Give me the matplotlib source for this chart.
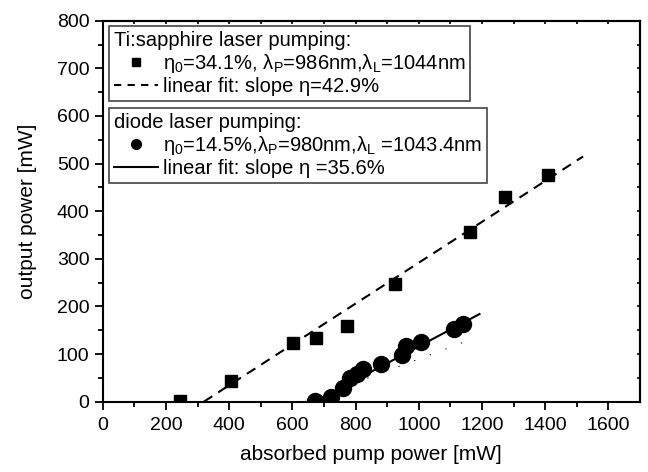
import matplotlib
matplotlib.use("Agg")
import matplotlib.pyplot as plt
from matplotlib.lines import Line2D
import numpy as np

plt.rcParams['font.family'] = ['Liberation Sans', 'DejaVu Sans']
plt.rcParams['mathtext.fontset'] = 'custom'
plt.rcParams['mathtext.rm'] = 'Liberation Sans'
plt.rcParams['mathtext.it'] = 'Liberation Sans'

# Ti:sapphire laser pumping
ti_x = [245, 405, 601, 675, 772, 925, 1162, 1273, 1408]
ti_y = [2, 44, 124, 134, 158, 247, 356, 430, 477]
ti_fit_x = [320, 1520]
ti_fit_y = [0, 515]

# diode laser pumping
di_x = [672, 722, 761, 783, 804, 825, 881, 946, 959, 1006, 1112, 1141]
di_y = [2, 10, 28, 49, 59, 68, 80, 97, 117, 125, 153, 163]
di_fit_x = [672, 1192]
di_fit_y = [0, 184]

# faint dotted trace under the diode data
dot_x = [640, 1155]
dot_y = [0, 128]

fig = plt.figure(figsize=(6.48, 4.72), dpi=100)
ax = fig.add_axes([0.1585, 0.149, 0.8292, 0.807])

ax.plot(ti_fit_x, ti_fit_y, color='black', lw=1.5, linestyle=(0, (4.8, 3.4)))
ax.plot(ti_x, ti_y, 's', color='black', ms=9)
ax.plot(di_fit_x, di_fit_y, color='black', lw=1.5)
ax.plot(di_x, di_y, 'o', color='black', ms=11.5)
ax.plot(dot_x, dot_y, color='black', lw=0.8, linestyle=(0, (1, 14)))

ax.set_xlim(0, 1700)
ax.set_ylim(0, 800)
ax.set_xticks(np.arange(0, 1601, 200))
ax.set_xticks(np.arange(100, 1700, 200), minor=True)
ax.set_yticks(np.arange(0, 801, 100))
ax.set_yticks(np.arange(50, 800, 100), minor=True)
ax.tick_params(which='major', direction='out', length=6, width=1.3, labelsize=14)
ax.tick_params(axis='x', which='major', pad=5)
ax.tick_params(which='minor', direction='out', length=3.5, width=1.3)
for s in ax.spines.values():
    s.set_linewidth(1.5)

secx = ax.secondary_xaxis('top')
secx.set_xticks(np.arange(100, 1700, 100))
secx.tick_params(direction='in', length=2.5, width=1.2, labeltop=False)
secx.spines['top'].set_linewidth(1.5)
secy = ax.secondary_yaxis('right')
secy.set_yticks(np.arange(50, 800, 50))
secy.tick_params(direction='in', length=2.5, width=1.2, labelright=False)
secy.spines['right'].set_linewidth(1.5)

ax.set_xlabel('absorbed pump power [mW]', fontsize=15, labelpad=8)
ax.set_ylabel('output power [mW]', fontsize=15, labelpad=14)

leg_kw = dict(fontsize=14.5, title_fontsize=14.5, frameon=True, fancybox=False,
              edgecolor='#444444', framealpha=1, handlelength=2.2, handletextpad=0.2,
              borderpad=0.25, labelspacing=0.1, borderaxespad=0, alignment='left')

h1 = [Line2D([], [], marker='s', color='black', ls='none', ms=6),
      Line2D([], [], color='black', lw=1.5, ls=(0, (3.5, 3)))]
l1 = ['η$_0$=34.1%, λ$_P$=986nm,λ$_L$=1044nm', 'linear fit: slope η=42.9%']
leg1 = ax.legend(h1, l1, title='Ti:sapphire laser pumping:', loc='upper left',
                 bbox_to_anchor=(0.012, 0.986), **leg_kw)
leg1.get_frame().set_linewidth(1.2)
ax.add_artist(leg1)

h2 = [Line2D([], [], marker='o', color='black', ls='none', ms=7),
      Line2D([], [], color='black', lw=1.5)]
l2 = ['η$_0$=14.5%,λ$_P$=980nm,λ$_L$ =1043.4nm', 'linear fit: slope η =35.6%']
leg2 = ax.legend(h2, l2, title='diode laser pumping:', loc='upper left',
                 bbox_to_anchor=(0.012, 0.771), **leg_kw)
leg2.get_frame().set_linewidth(1.2)

fig.savefig('out.png', dpi=100)
